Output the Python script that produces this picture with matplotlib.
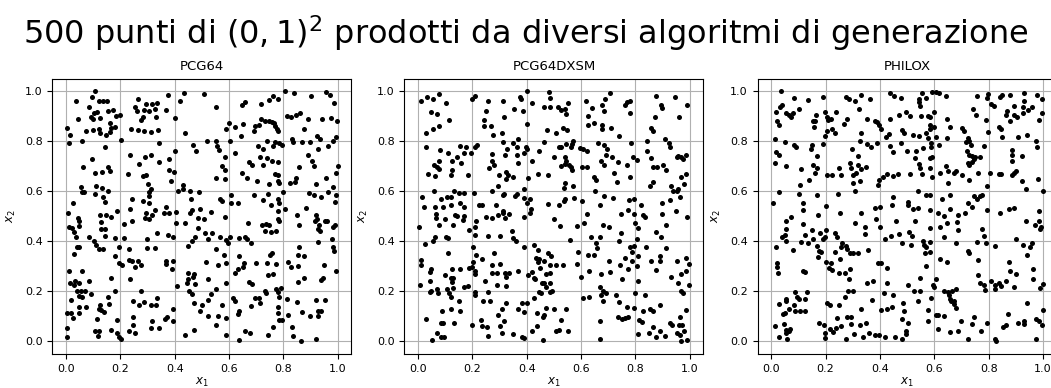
import numpy as np
import matplotlib
matplotlib.use("Agg")
import matplotlib.pyplot as plt

# Titles of the three generators
generators = ["PCG64", "PCG64DXSM", "PHILOX"]

# Points in (0,1)^2, one list of (x1, x2) pairs per generator
pcg64_points = [
    (0.108,1.0),(0.037,0.96),(0.096,0.976),(0.120,0.96),(0.137,0.96),(0.150,0.963),(0.086,0.936),(0.044,0.888),
    (0.113,0.917),(0.103,0.912),(0.093,0.899),(0.098,0.891),(0.125,0.893),(0.155,0.92),(0.174,0.925),(0.182,0.903),
    (0.199,0.905),(0.160,0.875),(0.167,0.853),(0.180,0.856),(0.147,0.827),(0.160,0.837),(0.005,0.853),(0.015,0.827),
    (0.012,0.795),(0.074,0.843),(0.098,0.845),(0.120,0.851),(0.125,0.832),(0.059,0.8),(0.201,0.805),(0.145,0.779),
    (0.265,0.968),(0.255,0.936),(0.260,0.923),(0.294,0.949),(0.317,0.951),(0.336,0.955),(0.375,0.987),(0.287,0.925),
    (0.304,0.923),(0.329,0.928),(0.368,0.925),(0.282,0.899),(0.275,0.885),(0.331,0.899),(0.240,0.848),(0.265,0.845),
    (0.285,0.84),(0.314,0.837),(0.339,0.845),(0.341,0.795),(0.4,0.893),(0.420,0.96),(0.434,0.992),(0.436,0.832),
    (0.468,0.784),(0.479,0.762),(0.402,0.76),(0.236,0.747),(0.290,0.736),(0.312,0.744),(0.341,0.717),(0.380,0.731),
    (0.270,0.709),(0.096,0.728),(0.061,0.699),(0.108,0.672),(0.132,0.677),(0.155,0.696),(0.162,0.683),(0.228,0.669),
    (0.282,0.661),(0.294,0.664),(0.301,0.629),(0.378,0.685),(0.398,0.677),(0.385,0.64),(0.412,0.603),(0.429,0.624),
    (0.432,0.608),(0.456,0.603),(0.488,0.597),(0.054,0.616),(0.059,0.597),(0.066,0.597),(0.110,0.621),(0.106,0.589),
    (0.132,0.613),(0.155,0.6),(0.137,0.576),(0.142,0.557),(0.025,0.555),(0.306,0.597),(0.314,0.608),(0.304,0.581),
    (0.243,0.568),(0.282,0.563),(0.304,0.552),(0.459,0.568),(0.234,0.531),(0.326,0.525),(0.366,0.539),(0.463,0.525),
    (0.493,0.531),(0.187,0.52),
    (0.507,0.989),(0.551,0.936),(0.649,0.944),(0.659,0.957),(0.719,0.949),(0.746,0.965),(0.760,0.981),(0.778,0.971),
    (0.807,1.0),(0.837,0.992),(0.901,0.981),(0.958,0.997),(0.970,0.984),(0.985,0.955),(0.598,0.875),(0.590,0.848),
    (0.620,0.859),(0.652,0.869),(0.694,0.861),(0.709,0.864),(0.691,0.84),(0.719,0.888),(0.733,0.883),(0.746,0.883),
    (0.756,0.877),(0.765,0.872),(0.770,0.861),(0.775,0.851),(0.780,0.84),(0.642,0.821),(0.812,0.901),(0.827,0.896),
    (0.847,0.904),(0.862,0.912),(0.891,0.891),(0.941,0.888),(0.973,0.893),(0.998,0.88),(0.877,0.851),(0.923,0.821),
    (0.933,0.808),(0.993,0.819),(0.983,0.803),(0.963,0.781),(0.928,0.771),(0.519,0.803),(0.553,0.803),(0.556,0.781),
    (0.563,0.765),(0.605,0.803),(0.741,0.803),(0.768,0.797),(0.763,0.781),(0.783,0.795),(0.793,0.787),(0.830,0.808),
    (0.835,0.797),(0.867,0.797),(0.899,0.797),(0.706,0.781),(0.726,0.771),(0.622,0.752),(0.585,0.736),(0.714,0.739),
    (0.741,0.733),(0.758,0.723),(0.780,0.717),(0.889,0.747),(0.904,0.723),(0.912,0.701),(0.673,0.717),(0.683,0.704),
    (0.723,0.707),(0.857,0.699),(0.999,0.701),(0.994,0.675),(0.575,0.701),(0.585,0.685),(0.647,0.672),(0.667,0.653),
    (0.553,0.653),(0.585,0.648),(0.770,0.669),(0.780,0.664),(0.778,0.643),(0.701,0.643),(0.746,0.629),(0.785,0.635),
    (0.825,0.632),(0.847,0.653),(0.844,0.637),(0.919,0.629),(0.958,0.653),(0.800,0.597),(0.691,0.584),(0.723,0.565),
    (0.743,0.589),(0.565,0.571),(0.572,0.563),(0.607,0.584),(0.607,0.552),(0.632,0.552),(0.778,0.571),(0.783,0.555),
    (0.753,0.547),(0.805,0.531),(0.893,0.595),(0.911,0.587),(0.938,0.576),(0.965,0.597),(0.983,0.619),(0.993,0.587),
    (0.991,0.557),(0.533,0.517),(0.778,0.52),(0.884,0.533),
    (0.007,0.512),(0.044,0.493),(0.049,0.48),(0.047,0.461),(0.125,0.504),(0.147,0.507),(0.164,0.499),(0.130,0.477),
    (0.130,0.451),(0.142,0.448),(0.213,0.469),(0.243,0.483),(0.294,0.512),(0.304,0.491),(0.317,0.504),(0.290,0.495),
    (0.361,0.512),(0.378,0.512),(0.405,0.517),(0.405,0.475),(0.436,0.475),(0.456,0.512),(0.486,0.493),(0.012,0.456),
    (0.022,0.453),(0.029,0.437),(0.037,0.419),(0.086,0.419),(0.103,0.4),(0.110,0.387),(0.123,0.368),(0.135,0.368),
    (0.142,0.421),(0.179,0.413),(0.215,0.413),(0.196,0.379),(0.039,0.376),(0.049,0.376),(0.029,0.349),(0.179,0.341),
    (0.233,0.368),(0.297,0.408),(0.297,0.373),(0.329,0.373),(0.334,0.432),(0.375,0.427),(0.395,0.419),(0.447,0.381),
    (0.464,0.4),(0.476,0.419),(0.486,0.453),(0.196,0.312),(0.206,0.307),(0.233,0.325),(0.243,0.32),(0.263,0.323),
    (0.253,0.299),(0.277,0.307),(0.366,0.32),(0.368,0.309),(0.395,0.32),(0.390,0.291),(0.010,0.28),(0.059,0.28),
    (0.167,0.253),(0.236,0.251),(0.449,0.275),(0.470,0.269),(0.466,0.259),(0.447,0.248),(0.444,0.232),(0.474,0.229),
    (0.410,0.221),(0.015,0.232),(0.032,0.243),(0.047,0.235),(0.029,0.224),(0.086,0.243),(0.039,0.203),(0.054,0.203),
    (0.069,0.203),(0.047,0.181),(0.059,0.176),(0.020,0.165),(0.093,0.189),(0.179,0.2),(0.155,0.179),(0.277,0.203),
    (0.454,0.203),(0.464,0.189),(0.245,0.163),(0.270,0.144),(0.287,0.157),(0.312,0.147),(0.331,0.147),(0.336,0.173),
    (0.469,0.155),(0.049,0.139),(0.074,0.139),(0.125,0.147),(0.120,0.131),(0.130,0.125),(0.140,0.117),(0.157,0.149),
    (0.002,0.115),(0.017,0.115),(0.025,0.093),(0.049,0.115),(0.115,0.088),(0.189,0.085),(0.245,0.099),(0.245,0.067),
    (0.317,0.08),(0.314,0.053),(0.341,0.053),(0.363,0.091),(0.370,0.096),(0.393,0.083),(0.395,0.131),(0.491,0.12),
    (0.005,0.053),(0.005,0.019),(0.106,0.043),(0.123,0.043),(0.118,0.021),(0.167,0.045),(0.187,0.032),(0.194,0.019),
    (0.201,0.008),(0.231,0.04),(0.253,0.032),(0.439,0.027),(0.469,0.045),
    (0.506,0.491),(0.585,0.496),(0.669,0.472),(0.721,0.464),(0.736,0.469),(0.746,0.464),(0.733,0.443),(0.753,0.437),
    (0.773,0.44),(0.778,0.491),(0.783,0.48),(0.849,0.507),(0.857,0.464),(0.919,0.507),(0.923,0.491),(0.916,0.483),
    (0.931,0.467),(0.926,0.451),(0.936,0.44),(0.953,0.48),(0.960,0.48),(0.983,0.459),(0.990,0.467),(0.928,0.397),
    (0.978,0.411),(0.983,0.379),(0.985,0.363),(0.511,0.435),(0.536,0.435),(0.521,0.411),(0.568,0.419),(0.595,0.395),
    (0.590,0.405),(0.605,0.416),(0.635,0.413),(0.657,0.419),(0.667,0.408),(0.679,0.395),(0.553,0.371),(0.580,0.344),
    (0.588,0.315),(0.558,0.304),(0.514,0.317),(0.635,0.341),(0.654,0.315),(0.652,0.299),(0.699,0.315),(0.632,0.291),
    (0.622,0.272),(0.741,0.315),(0.749,0.344),(0.758,0.352),(0.773,0.309),(0.743,0.264),(0.760,0.269),(0.524,0.251),
    (0.590,0.235),(0.672,0.237),(0.684,0.229),(0.815,0.316),(0.827,0.299),(0.857,0.376),(0.852,0.344),(0.854,0.301),
    (0.877,0.341),(0.854,0.237),(0.874,0.253),(0.948,0.304),(0.993,0.28),(0.938,0.245),(0.946,0.253),(0.553,0.211),
    (0.533,0.189),(0.521,0.165),(0.501,0.147),(0.615,0.173),(0.620,0.163),(0.573,0.147),(0.731,0.203),(0.736,0.192),
    (0.694,0.173),(0.709,0.173),(0.712,0.155),(0.681,0.141),(0.773,0.211),(0.780,0.197),(0.790,0.213),(0.783,0.176),
    (0.780,0.136),(0.780,0.115),(0.812,0.168),(0.849,0.157),(0.867,0.117),(0.899,0.101),(0.921,0.165),(0.953,0.165),
    (0.928,0.123),(0.938,0.123),(0.926,0.101),(0.637,0.123),(0.632,0.109),(0.524,0.101),(0.558,0.101),(0.588,0.093),
    (0.553,0.064),(0.783,0.085),(0.793,0.085),(0.817,0.104),(0.763,0.056),(0.743,0.024),(0.657,0.04),(0.677,0.032),
    (0.637,0.005),(0.590,0.024),(0.832,0.056),(0.835,0.021),(0.864,0.003),(0.919,0.011),
]

pcg64dxsm_points = [
    (0.010,0.963),(0.034,0.979),(0.054,0.971),(0.076,0.989),(0.103,0.952),(0.049,0.917),(0.068,0.909),(0.115,0.885),
    (0.054,0.851),(0.076,0.861),(0.029,0.832),(0.198,0.971),(0.208,0.981),(0.259,0.963),(0.313,0.96),(0.374,0.976),
    (0.379,0.968),(0.401,1.0),(0.418,0.952),(0.352,0.931),(0.386,0.92),(0.482,0.997),(0.484,0.973),(0.465,0.936),
    (0.484,0.936),(0.249,0.92),(0.315,0.896),(0.244,0.885),(0.244,0.861),(0.269,0.861),(0.401,0.869),(0.276,0.827),
    (0.308,0.835),(0.474,0.845),(0.313,0.797),(0.350,0.792),(0.369,0.811),(0.364,0.779),(0.399,0.779),(0.401,0.771),
    (0.389,0.752),(0.328,0.771),(0.320,0.747),(0.462,0.797),(0.445,0.76),(0.499,0.736),(0.029,0.779),(0.081,0.765),
    (0.110,0.755),(0.156,0.781),(0.178,0.776),(0.169,0.752),(0.196,0.752),(0.208,0.779),(0.218,0.787),(0.142,0.736),
    (0.125,0.72),(0.159,0.712),(0.076,0.723),(0.059,0.707),(0.071,0.699),(0.076,0.691),(0.125,0.685),(0.122,0.667),
    (0.037,0.669),(0.061,0.661),(0.183,0.667),(0.274,0.749),(0.274,0.723),(0.262,0.693),(0.279,0.704),(0.364,0.747),
    (0.367,0.712),(0.421,0.723),(0.298,0.664),(0.323,0.677),(0.330,0.664),(0.325,0.651),(0.350,0.659),(0.403,0.653),
    (0.443,0.669),(0.479,0.667),(0.296,0.623),(0.271,0.603),(0.389,0.608),(0.059,0.6),(0.132,0.6),(0.149,0.595),
    (0.169,0.592),(0.205,0.592),(0.015,0.576),(0.022,0.536),(0.086,0.568),(0.105,0.576),(0.120,0.576),(0.122,0.544),
    (0.064,0.539),(0.093,0.536),(0.156,0.552),(0.169,0.539),(0.225,0.547),(0.237,0.544),(0.286,0.547),(0.311,0.584),
    (0.315,0.589),(0.355,0.581),(0.364,0.589),(0.391,0.573),(0.413,0.571),(0.401,0.552),(0.416,0.531),(0.477,0.549),
    (0.311,0.523),
    (0.514,0.936),(0.526,0.925),(0.539,0.928),(0.551,0.955),(0.543,0.909),(0.507,0.832),(0.532,0.853),(0.549,0.845),
    (0.617,0.96),(0.639,0.933),(0.625,0.901),(0.625,0.864),(0.647,0.872),(0.706,0.995),(0.688,0.971),(0.676,0.944),
    (0.686,0.92),(0.678,0.864),(0.676,0.848),(0.710,0.853),(0.740,0.821),(0.760,0.947),(0.770,0.957),(0.779,0.963),
    (0.779,0.915),(0.877,0.981),(0.894,0.947),(0.899,0.933),(0.944,0.976),(0.988,0.947),(0.961,0.899),(0.872,0.899),
    (0.858,0.853),(0.865,0.843),(0.517,0.779),(0.526,0.779),(0.543,0.789),(0.561,0.776),(0.571,0.803),(0.568,0.789),
    (0.539,0.736),(0.544,0.723),(0.527,0.701),(0.539,0.709),(0.554,0.707),(0.561,0.699),(0.566,0.685),(0.595,0.773),
    (0.607,0.771),(0.620,0.76),(0.602,0.699),(0.620,0.699),(0.661,0.792),(0.686,0.787),(0.696,0.768),(0.690,0.747),
    (0.712,0.739),(0.673,0.72),(0.683,0.704),(0.735,0.717),(0.720,0.675),(0.782,0.795),(0.769,0.707),(0.791,0.736),
    (0.804,0.725),(0.779,0.659),(0.843,0.8),(0.843,0.76),(0.856,0.733),(0.910,0.808),(0.923,0.795),(0.928,0.779),
    (0.865,0.699),(0.880,0.699),(0.902,0.704),(0.914,0.685),(0.951,0.736),(0.966,0.739),(0.973,0.731),(0.985,0.747),
    (0.956,0.741),(0.539,0.635),(0.537,0.613),(0.571,0.621),(0.649,0.659),(0.654,0.645),(0.733,0.637),(0.855,0.621),
    (0.863,0.637),(0.966,0.656),(0.985,0.669),(0.977,0.629),(0.931,0.621),(0.938,0.6),(0.951,0.603),(0.958,0.608),
    (0.963,0.576),(0.652,0.6),(0.683,0.581),(0.718,0.573),(0.777,0.565),(0.794,0.568),(0.821,0.547),(0.541,0.571),
    (0.536,0.563),(0.519,0.547),(0.572,0.573),(0.605,0.56),(0.669,0.544),(0.899,0.555),(0.926,0.565),(0.948,0.523),
    (0.774,0.525),
    (0.066,0.509),(0.066,0.493),(0.098,0.491),(0.137,0.504),(0.142,0.501),(0.169,0.501),(0.164,0.485),(0.076,0.464),
    (0.127,0.464),(0.005,0.459),(0.213,0.483),(0.210,0.459),(0.186,0.445),(0.208,0.424),(0.249,0.499),(0.271,0.493),
    (0.296,0.507),(0.311,0.512),(0.333,0.509),(0.320,0.493),(0.389,0.499),(0.411,0.512),(0.103,0.419),(0.110,0.413),
    (0.061,0.416),(0.054,0.4),(0.024,0.389),(0.257,0.421),(0.303,0.421),(0.350,0.413),(0.359,0.403),(0.345,0.443),
    (0.112,0.352),(0.203,0.376),(0.215,0.344),(0.203,0.317),(0.200,0.296),(0.188,0.293),(0.208,0.28),(0.208,0.269),
    (0.237,0.328),(0.279,0.355),(0.271,0.307),(0.303,0.309),(0.391,0.379),(0.425,0.387),(0.443,0.365),(0.435,0.333),
    (0.445,0.331),(0.443,0.317),(0.465,0.32),(0.477,0.352),(0.491,0.341),(0.487,0.307),(0.010,0.325),(0.012,0.304),
    (0.049,0.288),(0.044,0.277),(0.125,0.291),(0.156,0.288),(0.098,0.264),(0.120,0.253),(0.130,0.253),(0.125,0.237),
    (0.271,0.275),(0.291,0.275),(0.320,0.272),(0.335,0.272),(0.325,0.256),(0.367,0.283),(0.406,0.264),(0.421,0.277),
    (0.425,0.253),(0.430,0.248),(0.447,0.293),(0.469,0.269),(0.487,0.272),(0.007,0.227),(0.044,0.243),(0.049,0.203),
    (0.044,0.197),(0.068,0.211),(0.073,0.195),(0.108,0.208),(0.115,0.192),(0.120,0.176),(0.130,0.213),(0.169,0.216),
    (0.183,0.221),(0.247,0.243),(0.291,0.227),(0.325,0.221),(0.208,0.197),(0.208,0.184),(0.259,0.197),(0.239,0.16),
    (0.264,0.163),(0.149,0.163),(0.455,0.232),(0.465,0.232),(0.487,0.235),(0.472,0.216),(0.487,0.197),(0.494,0.203),
    (0.445,0.197),(0.452,0.192),(0.428,0.173),(0.325,0.155),(0.384,0.152),(0.401,0.155),(0.389,0.117),(0.369,0.128),
    (0.310,0.131),(0.472,0.133),(0.465,0.104),(0.460,0.096),(0.438,0.115),(0.090,0.123),(0.122,0.131),(0.156,0.123),
    (0.029,0.088),(0.083,0.072),(0.093,0.072),(0.132,0.075),(0.198,0.067),(0.232,0.085),(0.237,0.061),(0.252,0.056),
    (0.293,0.107),(0.318,0.083),(0.301,0.061),(0.308,0.032),(0.257,0.021),(0.350,0.029),(0.381,0.019),(0.389,0.013),
    (0.418,0.043),(0.438,0.061),(0.460,0.005),(0.071,0.032),(0.086,0.019),(0.095,0.016),(0.051,0.005),
    (0.502,0.491),(0.524,0.461),(0.585,0.461),(0.620,0.509),(0.612,0.475),(0.681,0.467),(0.703,0.459),(0.747,0.509),
    (0.794,0.509),(0.828,0.504),(0.835,0.496),(0.799,0.475),(0.811,0.453),(0.899,0.509),(0.914,0.467),(0.990,0.499),
    (0.877,0.437),(0.894,0.419),(0.558,0.405),(0.637,0.419),(0.671,0.419),(0.654,0.395),(0.659,0.373),(0.745,0.432),
    (0.740,0.403),(0.806,0.411),(0.796,0.381),(0.779,0.376),(0.787,0.357),(0.811,0.341),(0.838,0.379),(0.912,0.373),
    (0.892,0.341),(0.889,0.32),(0.590,0.357),(0.627,0.347),(0.647,0.347),(0.760,0.333),(0.789,0.323),(0.804,0.301),
    (0.701,0.323),(0.742,0.307),(0.772,0.291),(0.858,0.323),(0.875,0.285),(0.951,0.32),(0.985,0.333),(0.998,0.309),
    (0.985,0.28),(0.966,0.269),(0.929,0.259),(0.509,0.307),(0.534,0.307),(0.585,0.309),(0.629,0.283),(0.674,0.269),
    (0.708,0.277),(0.598,0.256),(0.750,0.251),(0.809,0.24),(0.958,0.232),(0.998,0.227),(0.968,0.2),(0.975,0.192),
    (0.669,0.216),(0.679,0.203),(0.691,0.195),(0.674,0.184),(0.681,0.16),(0.629,0.179),(0.607,0.173),(0.730,0.187),
    (0.740,0.157),(0.799,0.195),(0.836,0.184),(0.769,0.139),(0.796,0.133),(0.828,0.12),(0.855,0.131),(0.865,0.123),
    (0.892,0.147),(0.735,0.099),(0.752,0.088),(0.762,0.093),(0.774,0.096),(0.813,0.085),(0.823,0.077),(0.985,0.125),
    (0.963,0.096),(0.961,0.067),(0.971,0.067),(0.926,0.072),(0.934,0.067),(0.669,0.083),(0.544,0.131),(0.502,0.131),
    (0.527,0.085),(0.509,0.04),(0.519,0.045),(0.553,0.04),(0.671,0.008),(0.811,0.029),(0.848,0.035),(0.863,0.059),
    (0.877,0.019),(0.892,0.043),(0.909,0.021),(0.951,0.035),(0.963,0.027),(0.978,0.04),(0.968,0.003),(0.988,0.005),
]

philox_points = [
    (0.037,1.0),(0.083,0.973),(0.135,0.965),(0.039,0.947),(0.034,0.936),(0.017,0.917),(0.054,0.912),(0.064,0.904),
    (0.074,0.896),(0.081,0.915),(0.103,0.928),(0.020,0.881),(0.027,0.864),(0.191,0.979),(0.164,0.904),(0.162,0.883),
    (0.152,0.88),(0.157,0.859),(0.199,0.917),(0.204,0.899),(0.209,0.885),(0.219,0.888),(0.238,0.917),(0.204,0.843),
    (0.224,0.851),(0.236,0.832),(0.196,0.821),(0.275,0.976),(0.285,0.971),(0.307,0.96),(0.331,0.984),(0.363,0.968),
    (0.324,0.928),(0.279,0.891),(0.269,0.869),(0.353,0.888),(0.380,0.883),(0.390,0.877),(0.395,0.867),(0.402,0.851),
    (0.437,0.992),(0.452,0.981),(0.476,0.973),(0.437,0.891),(0.471,0.907),(0.331,0.835),(0.422,0.819),(0.434,0.829),
    (0.015,0.808),(0.052,0.797),(0.083,0.784),(0.091,0.779),(0.150,0.784),(0.147,0.768),(0.191,0.789),(0.326,0.8),
    (0.353,0.789),(0.366,0.779),(0.390,0.792),(0.437,0.78),(0.447,0.757),(0.479,0.792),(0.017,0.757),(0.029,0.744),
    (0.015,0.712),(0.056,0.701),(0.168,0.741),(0.110,0.691),(0.152,0.704),(0.169,0.693),(0.162,0.672),(0.140,0.645),
    (0.106,0.627),(0.204,0.667),(0.223,0.664),(0.258,0.664),(0.248,0.693),(0.297,0.768),(0.319,0.741),(0.290,0.712),
    (0.295,0.693),(0.319,0.707),(0.329,0.688),(0.348,0.696),(0.299,0.664),(0.311,0.675),(0.326,0.643),(0.301,0.632),
    (0.395,0.645),(0.410,0.656),(0.427,0.669),(0.447,0.661),(0.466,0.669),(0.393,0.627),(0.029,0.597),(0.103,0.589),
    (0.115,0.552),(0.118,0.525),(0.169,0.587),(0.245,0.589),(0.309,0.6),(0.005,0.552),(0.201,0.541),(0.447,0.576),
    (0.444,0.547),(0.380,0.533),(0.400,0.536),
    (0.497,0.917),(0.509,0.901),(0.480,0.845),(0.490,0.832),(0.499,0.76),(0.534,0.76),(0.529,0.733),(0.553,0.992),
    (0.544,0.971),(0.571,0.973),(0.544,0.957),(0.548,0.941),(0.590,0.997),(0.607,0.997),(0.617,0.992),(0.642,0.981),
    (0.551,0.901),(0.578,0.901),(0.585,0.899),(0.6,0.917),(0.585,0.867),(0.583,0.848),(0.6,0.856),(0.568,0.832),
    (0.578,0.813),(0.607,0.819),(0.588,0.795),(0.521,0.824),(0.544,0.821),(0.558,0.773),(0.588,0.776),(0.590,0.739),
    (0.585,0.733),(0.585,0.693),(0.590,0.659),(0.544,0.709),(0.548,0.693),(0.509,0.669),(0.553,0.669),(0.617,0.784),
    (0.647,0.888),(0.656,0.859),(0.647,0.813),(0.644,0.701),(0.652,0.683),(0.671,0.675),(0.681,0.683),(0.701,0.664),
    (0.622,0.675),(0.651,0.635),(0.757,0.981),(0.742,0.928),(0.752,0.907),(0.789,0.885),(0.701,0.853),(0.710,0.84),
    (0.723,0.813),(0.728,0.803),(0.733,0.787),(0.718,0.797),(0.782,0.781),(0.720,0.76),(0.728,0.747),(0.738,0.741),
    (0.750,0.736),(0.769,0.736),(0.723,0.715),(0.728,0.704),(0.740,0.717),(0.745,0.728),(0.728,0.645),(0.760,0.672),
    (0.799,0.989),(0.794,0.973),(0.809,0.949),(0.819,0.941),(0.841,0.976),(0.850,0.987),(0.880,0.987),(0.867,0.92),
    (0.862,0.907),(0.894,0.941),(0.892,0.907),(0.904,0.899),(0.931,0.992),(0.928,0.96),(0.926,0.939),(0.926,0.912),
    (0.943,0.925),(0.960,0.936),(0.978,0.987),(0.995,0.968),(0.995,0.912),(0.985,0.885),(0.880,0.88),(0.838,0.859),
    (0.845,0.851),(0.799,0.837),(0.850,0.816),(0.907,0.816),(0.939,0.827),(0.973,0.8),(0.976,0.779),(0.885,0.765),
    (0.885,0.747),(0.887,0.723),(0.924,0.741),(0.806,0.672),(0.838,0.669),(0.845,0.669),(0.885,0.664),(0.894,0.675),
    (0.902,0.68),(0.924,0.643),(0.980,0.648),(0.936,0.608),(0.998,0.6),(0.794,0.621),(0.539,0.603),(0.568,0.587),
    (0.585,0.587),(0.659,0.587),(0.502,0.557),(0.504,0.544),(0.521,0.531),(0.541,0.533),(0.583,0.525),(0.629,0.568),
    (0.659,0.531),(0.747,0.581),(0.757,0.568),(0.769,0.581),(0.777,0.587),(0.723,0.552),(0.740,0.536),(0.794,0.525),
    (0.875,0.531),(0.892,0.533),(0.985,0.52),
    (0.074,0.499),(0.056,0.483),(0.172,0.504),(0.253,0.512),(0.331,0.512),(0.385,0.488),(0.307,0.472),(0.118,0.469),
    (0.056,0.448),(0.049,0.427),(0.039,0.419),(0.054,0.4),(0.017,0.376),(0.081,0.365),(0.110,0.397),(0.125,0.424),
    (0.150,0.445),(0.155,0.411),(0.137,0.392),(0.179,0.432),(0.201,0.445),(0.189,0.408),(0.196,0.416),(0.167,0.381),
    (0.174,0.363),(0.182,0.357),(0.172,0.336),(0.236,0.432),(0.243,0.419),(0.262,0.392),(0.258,0.379),(0.275,0.381),
    (0.280,0.368),(0.290,0.352),(0.302,0.352),(0.319,0.352),(0.346,0.456),(0.344,0.429),(0.356,0.365),(0.4,0.459),
    (0.417,0.411),(0.442,0.421),(0.471,0.429),(0.459,0.48),(0.233,0.357),(0.253,0.328),(0.020,0.315),(0.020,0.299),
    (0.025,0.275),(0.115,0.283),(0.125,0.277),(0.201,0.317),(0.221,0.312),(0.214,0.293),(0.223,0.285),(0.250,0.275),
    (0.270,0.275),(0.288,0.288),(0.285,0.251),(0.393,0.315),(0.402,0.315),(0.427,0.293),(0.351,0.235),(0.375,0.24),
    (0.427,0.235),(0.088,0.197),(0.056,0.168),(0.054,0.16),(0.029,0.149),(0.064,0.131),(0.052,0.115),(0.044,0.109),
    (0.096,0.176),(0.103,0.168),(0.123,0.168),(0.133,0.197),(0.083,0.144),(0.086,0.12),(0.105,0.123),(0.123,0.123),
    (0.282,0.203),(0.299,0.2),(0.272,0.179),(0.204,0.155),(0.216,0.144),(0.248,0.144),(0.331,0.131),(0.371,0.165),
    (0.415,0.192),(0.449,0.187),(0.402,0.125),(0.427,0.131),(0.444,0.139),(0.012,0.061),(0.047,0.069),(0.054,0.045),
    (0.064,0.043),(0.069,0.048),(0.056,0.035),(0.059,0.011),(0.029,0.019),(0.174,0.075),(0.194,0.067),(0.196,0.032),
    (0.196,0.013),(0.216,0.048),(0.226,0.037),(0.238,0.053),(0.241,0.093),(0.280,0.099),(0.292,0.099),(0.258,0.061),
    (0.292,0.069),(0.326,0.064),(0.348,0.072),(0.275,0.011),(0.304,0.029),(0.339,0.016),(0.361,0.035),(0.380,0.027),
    (0.398,0.024),(0.420,0.016),(0.454,0.019),
    (0.615,0.515),(0.637,0.501),(0.647,0.475),(0.622,0.456),(0.637,0.419),(0.688,0.504),(0.683,0.477),(0.688,0.445),
    (0.713,0.512),(0.840,0.512),(0.529,0.483),(0.583,0.453),(0.507,0.437),(0.517,0.421),(0.480,0.392),(0.514,0.384),
    (0.558,0.403),(0.563,0.384),(0.568,0.376),(0.583,0.397),(0.566,0.355),(0.585,0.357),(0.568,0.301),(0.681,0.395),
    (0.757,0.397),(0.774,0.448),(0.784,0.421),(0.789,0.395),(0.823,0.381),(0.936,0.483),(0.971,0.464),(0.985,0.48),
    (0.993,0.459),(0.990,0.448),(0.902,0.408),(0.926,0.384),(0.953,0.379),(0.958,0.395),(0.939,0.347),(0.723,0.363),
    (0.728,0.355),(0.620,0.331),(0.647,0.317),(0.760,0.325),(0.875,0.317),(0.880,0.283),(0.902,0.269),(0.963,0.291),
    (0.963,0.248),(0.998,0.229),(0.988,0.213),(0.760,0.264),(0.767,0.235),(0.782,0.227),(0.787,0.205),(0.808,0.243),
    (0.823,0.227),(0.823,0.211),(0.836,0.232),(0.845,0.221),(0.865,0.243),(0.892,0.216),(0.502,0.227),(0.546,0.253),
    (0.524,0.2),(0.546,0.203),(0.595,0.227),(0.6,0.219),(0.605,0.251),(0.637,0.203),(0.649,0.197),(0.654,0.187),
    (0.666,0.203),(0.679,0.208),(0.656,0.171),(0.663,0.16),(0.673,0.16),(0.671,0.149),(0.681,0.133),(0.588,0.173),
    (0.541,0.16),(0.485,0.155),(0.490,0.12),(0.482,0.091),(0.578,0.125),(0.575,0.083),(0.605,0.104),(0.612,0.104),
    (0.634,0.101),(0.502,0.072),(0.495,0.043),(0.495,0.029),(0.480,0.008),(0.612,0.048),(0.659,0.037),(0.686,0.043),
    (0.698,0.08),(0.747,0.096),(0.737,0.069),(0.725,0.008),(0.772,0.04),(0.794,0.072),(0.823,0.011),(0.826,0.003),
    (0.853,0.059),(0.865,0.067),(0.870,0.109),(0.909,0.072),(0.929,0.083),(0.929,0.069),(0.941,0.155),(0.998,0.125),
    (0.975,0.088),(0.985,0.083),(0.995,0.064),(0.975,0.011),
]

tick_values = [0.0, 0.2, 0.4, 0.6, 0.8, 1.0]

fig = plt.figure(figsize=(10.51, 3.88), dpi=100)

# axes rectangles (left, bottom, width, height) in figure fractions
axes_lefts = [0.0499, 0.3848, 0.7209]
ax_bottom, ax_width, ax_height = 0.0881, 0.2845, 0.7088

for left, name, pts in zip(axes_lefts, generators,
                           [pcg64_points, pcg64dxsm_points, philox_points]):
    ax = fig.add_axes([left, ax_bottom, ax_width, ax_height])
    arr = np.array(pts)
    ax.scatter(arr[:, 0], arr[:, 1], s=13, color="black", zorder=3, linewidths=0)
    ax.set_xlim(-0.05, 1.05)
    ax.set_ylim(-0.05, 1.05)
    ax.set_xticks(tick_values)
    ax.set_yticks(tick_values)
    ax.tick_params(labelsize=8)
    ax.grid(True, color="#b0b0b0", linewidth=0.8)
    ax.set_axisbelow(True)
    ax.set_title(name, fontsize=9.5)
    ax.set_xlabel("$x_1$", fontsize=8.5, labelpad=2)
    ax.set_ylabel("$x_2$", fontsize=8.5, labelpad=5)

fig.suptitle(r"500 punti di $(0,1)^2$ prodotti da diversi algoritmi di generazione",
             fontsize=23, y=0.915, va="center")

fig.savefig("out.png", dpi=100)
